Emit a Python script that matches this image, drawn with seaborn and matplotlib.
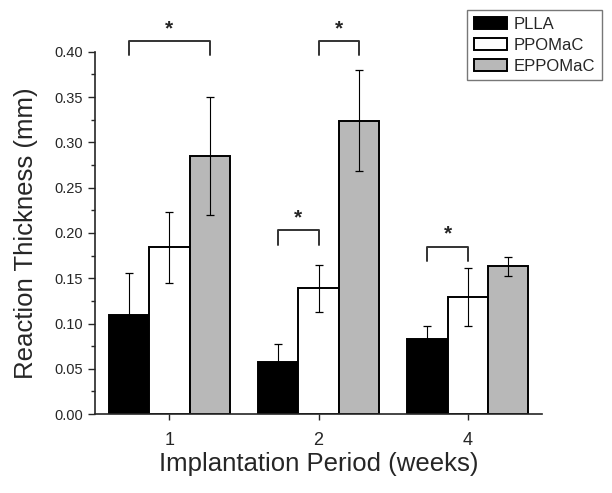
import numpy as np
import pandas as pd
import matplotlib
matplotlib.use('Agg')
import matplotlib.pyplot as plt
import seaborn as sns
from matplotlib.ticker import MultipleLocator

# Data
periods = ['1', '2', '4']
materials = ['PLLA', 'PPOMaC', 'EPPOMaC']
plla_mean = [0.109, 0.057, 0.083]
plla_sd = [0.047, 0.020, 0.014]
ppomac_mean = [0.184, 0.139, 0.129]
ppomac_sd = [0.039, 0.026, 0.032]
eppomac_mean = [0.285, 0.324, 0.163]
eppomac_sd = [0.065, 0.056, 0.010]

# significance brackets: (period index, material a, material b, bracket height)
sig_pairs = [(0, 0, 2, 0.412), (1, 0, 1, 0.203), (1, 1, 2, 0.412), (2, 0, 1, 0.185)]

colors = ['black', 'white', '#b8b8b8']

df = pd.DataFrame({
    'period': periods * 3,
    'material': np.repeat(materials, 3),
    'thickness': plla_mean + ppomac_mean + eppomac_mean,
    'sd': plla_sd + ppomac_sd + eppomac_sd,
})

sns.set_style('ticks')
plt.rcParams['font.family'] = ['Liberation Sans', 'DejaVu Sans']

fig = plt.figure(figsize=(6.12, 4.93), dpi=100)
ax = fig.add_axes([0.155, 0.160, 0.731, 0.735])

sns.barplot(data=df, x='period', y='thickness', hue='material', order=periods,
            hue_order=materials, palette=colors, errorbar=None, width=0.81,
            edgecolor='black', linewidth=1.4, ax=ax, legend=True)

# find bar centres by matching bar heights to the data rows
centers = {}
for bar in ax.patches:
    h = bar.get_height()
    hit = df[np.isclose(df.thickness, h)]
    if bar.get_width() <= 0 or len(hit) == 0:
        continue
    row = hit.iloc[0]
    cx = bar.get_x() + bar.get_width() / 2
    centers[(materials.index(row.material), periods.index(row.period))] = cx
    ax.errorbar(cx, row.thickness, yerr=row.sd, fmt='none', ecolor='black',
                elinewidth=0.8, capsize=3, capthick=0.9, zorder=5)

leg_drop = 0.016
for j, a, b, h in sig_pairs:
    xa, xb = centers[(a, j)], centers[(b, j)]
    ax.plot([xa, xa, xb, xb], [h - leg_drop, h, h, h - leg_drop], color='#333333',
            lw=1.4, clip_on=False)
    ax.text((xa + xb) / 2, h + 0.003, '*', ha='center', va='bottom', fontsize=15,
            fontweight='bold', clip_on=False)

ax.set_xlim(-0.5, 2.5)
ax.set_ylim(0, 0.40)
ax.yaxis.set_major_locator(MultipleLocator(0.05))
ax.yaxis.set_minor_locator(MultipleLocator(0.025))
ax.yaxis.set_major_formatter(matplotlib.ticker.FormatStrFormatter('%.2f'))
ax.tick_params(axis='y', which='major', length=5, width=1, labelsize=10.5)
ax.tick_params(axis='y', which='minor', length=3, width=1)
ax.tick_params(axis='x', length=4, width=1, labelsize=13, pad=9)
for s in ['top', 'right']:
    ax.spines[s].set_visible(False)
for s in ['left', 'bottom']:
    ax.spines[s].set_linewidth(1.2)

ax.set_xlabel('Implantation Period (weeks)', fontsize=18.5, labelpad=2)
ax.set_ylabel('Reaction Thickness (mm)', fontsize=18.5, labelpad=12)

handles, labels = ax.get_legend_handles_labels()
ax.legend(handles, labels, loc='upper right', bbox_to_anchor=(0.984, 0.98),
          bbox_transform=fig.transFigure, fontsize=12, frameon=True, fancybox=False,
          edgecolor='#555555', handlelength=2.0, handleheight=0.8, labelspacing=0.35,
          borderaxespad=0, handletextpad=0.4, borderpad=0.4)
ax.get_legend().get_frame().set_linewidth(1.0)

fig.savefig('out.png', dpi=100)
